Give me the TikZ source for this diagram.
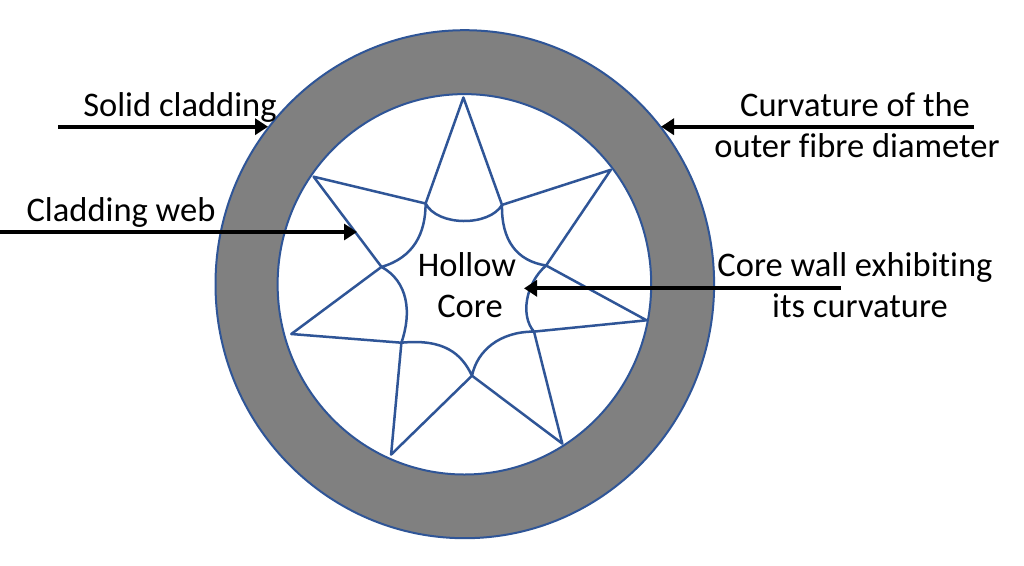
\documentclass[tikz,border=0pt]{standalone}
\usepackage{fontspec}
\setmainfont{Carlito}[Ligatures=NoCommon]
\usetikzlibrary{arrows.meta}
\definecolor{lineblue}{HTML}{2F5597}
\definecolor{cladgray}{HTML}{808080}
\tikzset{
  ring/.style={draw=lineblue, line width=2pt},
  wall/.style={draw=lineblue, line width=2.5pt, line join=round},
  pointer/.style={draw=black, line width=4.2pt, -{Triangle[length=13pt,width=16pt]}},
  lbl/.style={anchor=base, inner sep=0pt, font=\fontsize{34.5}{41}\selectfont},
}
\begin{document}
\begin{tikzpicture}[x=1pt,y=-1pt]
\useasboundingbox[fill=white] (0,0) rectangle (1024,565);
% cladding rings
\path[ring, fill=cladgray] (464.8,284.2) ellipse [x radius=249.3, y radius=254];
\path[ring, fill=white] (464.4,284.3) ellipse [x radius=186.8, y radius=190.2];
% star-shaped cladding web
\coordinate (T1) at (463.4,97.5);
\coordinate (T2) at (610.8,169.8);
\coordinate (T3) at (646.6,320.3);
\coordinate (T4) at (562.3,443.6);
\coordinate (T5) at (391.1,454.6);
\coordinate (T6) at (291.3,334.0);
\coordinate (T7) at (313.6,176.7);
\coordinate (V1) at (425.6,203.5);
\coordinate (V2) at (502.0,204.9);
\coordinate (V3) at (546.1,265.5);
\coordinate (V4) at (534.0,331.6);
\coordinate (V5) at (472.0,375.7);
\coordinate (V6) at (401.4,342.7);
\coordinate (V7) at (381.5,266.9);
\draw[wall] (V1) -- (T1) -- (V2) -- (T2) -- (V3) -- (T3) -- (V4) -- (T4) -- (V5) -- (T5) -- (V6) -- (T6) -- (V7) -- (T7) -- cycle;
% curved core wall
\draw[wall] (V1) .. controls (437.6,226.6) and (489.3,226.6) .. (V2)
  .. controls (501.3,240.4) and (516.8,261.0) .. (V3)
  .. controls (525.4,283.4) and (520.2,316.1) .. (V4)
  .. controls (499.6,331.6) and (477.2,350.6) .. (V5)
  .. controls (461.7,354.0) and (444.5,338.5) .. (V6)
  .. controls (411.8,312.7) and (408.3,281.7) .. (V7)
  .. controls (413.5,257.6) and (425.6,233.5) .. (V1);
% labels
\node[lbl] (hollow) at (467,276.5) {Hollow};
\node[lbl] (core) at (470,317.9) {Core};
\node[lbl] (solid) at (180,116.7) {Solid cladding};
\node[lbl] (web) at (121,221.7) {Cladding web};
\node[lbl] (curv1) at (855,116.7) {Curvature of the};
\node[lbl] (curv2) at (857,157.3) {outer fibre diameter};
\node[lbl] (cw1) at (855,276.7) {Core wall exhibiting};
\node[lbl] (cw2) at (860,317.3) {its curvature};
% pointers
\coordinate (sA) at (58,126.7);   \coordinate (sB) at (268,126.7);
\coordinate (wA) at (0,232);      \coordinate (wB) at (357,232);
\coordinate (cA) at (974,126.7);  \coordinate (cB) at (661,126.7);
\coordinate (kA) at (841,288.3);  \coordinate (kB) at (524,288.3);
\draw[pointer] (sA) -- (sB);
\draw[pointer] (wA) -- (wB);
\draw[pointer] (cA) -- (cB);
\draw[pointer] (kA) -- (kB);
\end{tikzpicture}
\end{document}
